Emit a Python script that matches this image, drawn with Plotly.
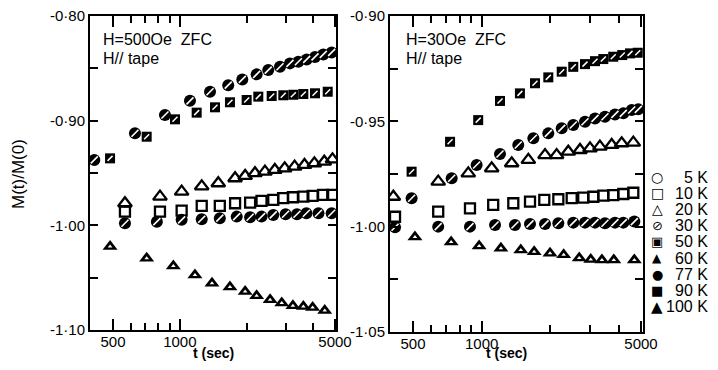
import plotly.graph_objects as go

# ---------------- data ----------------
# Left panel: H = 500 Oe
t_L77 = [412, 628, 857, 1111, 1368, 1652, 1912, 2218, 2503, 2826, 3134, 3419, 3727, 4064, 4429, 4830]
m_L77 = [-0.9375, -0.912, -0.8946, -0.881, -0.8723, -0.866, -0.8605, -0.8557, -0.8516, -0.8484,
         -0.8452, -0.8436, -0.8414, -0.839, -0.8366, -0.8347]
t_L50 = [485, 709, 951, 1191, 1440, 1682, 2000, 2257, 2593, 2925, 3246, 3600, 4064, 4636]
m_L50 = [-0.936, -0.9153, -0.8987, -0.8923, -0.8872, -0.8824, -0.8802, -0.877, -0.8764, -0.8757,
         -0.8752, -0.8745, -0.8738, -0.8723]
t_L20 = [566, 814, 1019, 1255, 1490, 1774, 1969, 2181, 2418, 2679, 2968, 3289, 3644, 4038, 4474, 4872]
m_L20 = [-0.9789, -0.9726, -0.9678, -0.9627, -0.9598, -0.955, -0.9528, -0.9502, -0.9487, -0.9471,
         -0.9455, -0.9439, -0.9423, -0.9407, -0.9392, -0.9369]
t_L10 = [566, 814, 1019, 1255, 1514, 1774, 2073, 2334, 2636, 2919, 3231, 3601, 3965, 4420, 4860]
m_L10 = [-0.9869, -0.9869, -0.986, -0.9815, -0.9815, -0.9789, -0.9783, -0.9767, -0.9757, -0.9741,
         -0.9732, -0.9726, -0.9719, -0.971, -0.971]
t_L30 = [566, 788, 1019, 1255, 1514, 1804, 2073, 2334, 2636, 2995, 3370, 3716, 4213, 4830]
m_L30 = [-0.998, -0.9965, -0.9948, -0.9942, -0.9932, -0.9917, -0.9923, -0.9917, -0.9901, -0.9894,
         -0.9894, -0.9885, -0.9885, -0.9885]
t_L100 = [485, 709, 935, 1170, 1396, 1682, 1969, 2218, 2551, 2878, 3231, 3601, 3965, 4495]
m_L100 = [-1.0203, -1.0314, -1.0388, -1.0474, -1.0553, -1.0591, -1.0633, -1.0674, -1.0712, -1.0744,
          -1.077, -1.0777, -1.0786, -1.0815]

# Right panel: H = 30 Oe
t_R90 = [493, 727, 966, 1204, 1472, 1714, 1961, 2245, 2523, 2840, 3142, 3418, 3778, 4138, 4477, 4838]
m_R90 = [-0.9739, -0.9597, -0.9494, -0.9403, -0.9367, -0.9319, -0.9291, -0.9264, -0.9241, -0.9228,
         -0.9214, -0.9204, -0.9193, -0.9185, -0.9177, -0.9174]
t_R77 = [493, 739, 951, 1204, 1448, 1686, 1961, 2245, 2523, 2840, 3142, 3475, 3844, 4182, 4553, 4866]
m_R77 = [-0.9865, -0.977, -0.9707, -0.9655, -0.9612, -0.958, -0.9557, -0.9533, -0.9517, -0.9502,
         -0.9486, -0.9478, -0.9467, -0.9462, -0.9446, -0.9443]
t_R20 = [410, 645, 874, 1107, 1355, 1603, 1897, 2133, 2399, 2701, 2988, 3302, 3719, 4114, 4627]
m_R20 = [-0.9858, -0.9786, -0.9747, -0.9723, -0.9699, -0.9683, -0.966, -0.966, -0.9644, -0.9636,
         -0.9628, -0.962, -0.9612, -0.9604, -0.9601]
t_R10 = [417, 645, 889, 1124, 1377, 1630, 1883, 2170, 2483, 2790, 3090, 3418, 3778, 4182, 4627]
m_R10 = [-0.9953, -0.9929, -0.9913, -0.9897, -0.9889, -0.9881, -0.9873, -0.987, -0.9865, -0.9862,
         -0.9858, -0.9853, -0.985, -0.9845, -0.9839]
t_R30 = [417, 645, 889, 1145, 1400, 1630, 1897, 2170, 2523, 2840, 3142, 3475, 3844, 4182, 4675]
m_R30 = [-1.0003, -1.0, -1.0, -0.9992, -0.9992, -0.9987, -0.9987, -0.9984, -0.9981, -0.9981,
         -0.9981, -0.9984, -0.9981, -0.9981, -0.9976]
t_R60 = [510, 735, 975, 1215, 1485, 1700, 1995, 2290, 2680, 3010, 3370, 3800, 4675]
m_R60 = [-1.0049, -1.0073, -1.0092, -1.0103, -1.0111, -1.0119, -1.0126, -1.0134, -1.0149, -1.0156,
         -1.0158, -1.0158, -1.0158]

x_major = [500, 1000, 5000]
x_major_text = ["500", "1000", "5000"]
x_minor = [600, 700, 800, 900, 2000, 3000, 4000]

yL_vals = [-1.10, -1.05, -1.00, -0.95, -0.90, -0.85, -0.80]
yL_text = ["-1·10", "", "-1·00", "", "-0·90", "", "-0·80"]
yR_vals = [-1.05, -1.025, -1.00, -0.975, -0.95, -0.925, -0.90]
yR_text = ["-1·05", "", "-1·00", "", "-0·95", "", "-0·90"]

legend_labels = ["5 K", "10 K", "20 K", "30 K", "50 K", "60 K", "77 K", "90 K", "100 K"]
legend_glyphs = ["○", "□", "△", "⊘", "▣", "▲", "●", "■", "▲"]
legend_glyph_sizes = [14, 14, 14, 13, 13, 12, 13, 13, 15]

# ---------------- figure ----------------
# The page body has an 8 px margin on every side; the figure is sized so that
# it fits inside the 718x370 window, and positions below are in window pixels.
OFF = 8
W, H = 718 - 2 * OFF, 370 - 2 * OFF


def fx(x):
    return (x - OFF) / W


def fy(y):
    return 1 - (y - OFF) / H


fig = go.Figure()

STYLES = {
    "hatch_circle": (dict(symbol="circle", size=12, color="black", line=dict(width=0)),
                     dict(symbol="line-ne", size=7, color="white", line=dict(color="white", width=1.6))),
    "hatch_square": (dict(symbol="square", size=10, color="black", line=dict(width=0)),
                     dict(symbol="line-ne", size=5, color="white", line=dict(color="white", width=1.5))),
    "open_tri": (dict(symbol="triangle-up-open", size=12, color="black", line=dict(color="black", width=2.3)), None),
    "open_square": (dict(symbol="square-open", size=10, color="black", line=dict(color="black", width=2.3)), None),
    "tri_dot": (dict(symbol="triangle-up", size=13, color="black", line=dict(width=0)),
                dict(symbol="triangle-up", size=4, color="white", line=dict(width=0))),
}


def add(t, m, style, panel, name):
    xa, ya = ("x", "y") if panel == 1 else ("x2", "y2")
    base, over = STYLES[style]
    fig.add_trace(go.Scatter(x=t, y=m, mode="markers", marker=base, name=name,
                             xaxis=xa, yaxis=ya, showlegend=False))
    if over is not None:
        fig.add_trace(go.Scatter(x=t, y=m, mode="markers", marker=over, name=name,
                                 xaxis=xa, yaxis=ya, showlegend=False, hoverinfo="skip"))


add(t_L77, m_L77, "hatch_circle", 1, "77 K")
add(t_L50, m_L50, "hatch_square", 1, "50 K")
add(t_L20, m_L20, "open_tri", 1, "20 K")
add(t_L10, m_L10, "open_square", 1, "10 K")
add(t_L30, m_L30, "hatch_circle", 1, "30 K")
add(t_L100, m_L100, "tri_dot", 1, "100 K")

add(t_R90, m_R90, "hatch_square", 2, "90 K")
add(t_R77, m_R77, "hatch_circle", 2, "77 K")
add(t_R20, m_R20, "open_tri", 2, "20 K")
add(t_R10, m_R10, "open_square", 2, "10 K")
add(t_R30, m_R30, "hatch_circle", 2, "30 K")
add(t_R60, m_R60, "tri_dot", 2, "60 K")

FONT = "Liberation Sans"
tickfont = dict(family=FONT, size=15, color="black")


def xaxis(domain, rng, anchor):
    return dict(type="log", domain=domain, range=rng, anchor=anchor,
                tickmode="array", tickvals=x_major, ticktext=x_major_text,
                ticks="inside", ticklen=11, tickwidth=1.8, tickcolor="black",
                minor=dict(tickmode="array", tickvals=x_minor, ticks="inside", ticklen=7,
                           tickwidth=1.5, tickcolor="black", showgrid=False),
                showline=True, linecolor="black", linewidth=2, mirror="ticks",
                showgrid=False, zeroline=False, tickfont=tickfont, automargin=False,
                ticklabeloverflow="allow", ticklabelstandoff=-3)


def yaxis(domain, rng, vals, text, anchor):
    return dict(domain=domain, range=rng, anchor=anchor,
                tickmode="array", tickvals=vals, ticktext=text,
                ticks="inside", ticklen=8, tickwidth=1.8, tickcolor="black",
                showline=True, linecolor="black", linewidth=2, mirror="ticks",
                showgrid=False, zeroline=False, tickfont=tickfont, automargin=False,
                ticklabeloverflow="allow")


fig.update_layout(
    width=W, height=H,
    margin=dict(l=0, r=0, t=0, b=0),
    paper_bgcolor="white", plot_bgcolor="white",
    showlegend=False,
    xaxis=xaxis([fx(90), fx(336)], [2.5954, 3.7035], "y"),
    yaxis=yaxis([fy(330), fy(16)], [-1.1001, -0.7999], yL_vals, yL_text, "x"),
    xaxis2=xaxis([fx(390), fx(643)], [2.5981, 3.7078], "y2"),
    yaxis2=yaxis([fy(332), fy(16)], [-1.05005, -0.89995], yR_vals, yR_text, "x2"),
)

ann = []


def txt(text, xp, yp, size, xanchor="left", yanchor="middle", family=FONT, weight="normal", angle=0):
    ann.append(dict(text=text, x=fx(xp), y=fy(yp), xref="paper", yref="paper",
                    xanchor=xanchor, yanchor=yanchor, showarrow=False, textangle=angle,
                    borderpad=0,
                    font=dict(family=family, size=size, color="black", weight=weight)))


txt("H=500Oe  ZFC", 102, 39, 16)
txt("H// tape", 102, 58, 16)
txt("H=30Oe  ZFC", 405, 39, 16)
txt("H// tape", 405, 58, 16)
txt("t (sec)", 213, 362, 14, xanchor="center", yanchor="bottom", weight="bold")
txt("t (sec)", 507, 362, 14, xanchor="center", yanchor="bottom", weight="bold")
txt("M(t)/M(0)", 18, 174, 17, xanchor="center", angle=-90)

for i, (g, lab) in enumerate(zip(legend_glyphs, legend_labels)):
    yp = 177 + 16.2 * i
    txt(g, 657, yp, legend_glyph_sizes[i], xanchor="center", family="DejaVu Sans")
    txt(lab, 709, yp, 16, xanchor="right")

fig.update_layout(annotations=ann)
fig.write_html("out.html")
